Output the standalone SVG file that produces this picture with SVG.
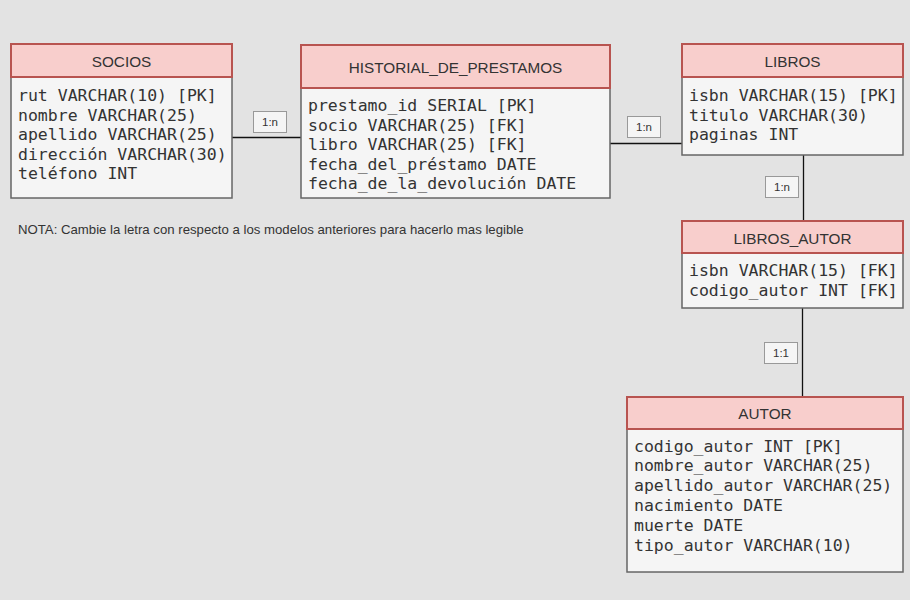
<svg xmlns="http://www.w3.org/2000/svg" width="910" height="600" viewBox="0 0 910 600">
<style>
.hd{fill:#f8cecc;stroke:#b85450;stroke-width:2}
.bd{fill:#f5f5f5;stroke:#666666;stroke-width:1.5}
.ht{font-family:"Liberation Sans",Arial,sans-serif;font-size:15.3px;fill:#333333;text-anchor:middle}
.bt{font-family:"DejaVu Sans Mono",monospace;font-size:16.5px;fill:#333333}
.ln{stroke:#111111;stroke-width:1.3;fill:none}
.lb{fill:#f5f5f5;stroke:#999999;stroke-width:1}
.lt{font-family:"Liberation Sans",Arial,sans-serif;font-size:11.5px;fill:#333333;text-anchor:middle}
.nt{font-family:"Liberation Sans",Arial,sans-serif;font-size:13.2px;fill:#333333}
</style>
<rect width="910" height="600" fill="#e3e3e3"/>
<g id="connectors">
<line class="ln" x1="232" y1="137.5" x2="301" y2="137.5"/>
<rect class="lb" x="253.5" y="111.5" width="33" height="21"/>
<text class="lt" x="270" y="126">1:n</text>
<line class="ln" x1="610" y1="143.5" x2="682" y2="143.5"/>
<rect class="lb" x="627.5" y="116.5" width="33" height="21"/>
<text class="lt" x="644" y="131">1:n</text>
<line class="ln" x1="803.5" y1="155" x2="803.5" y2="221"/>
<rect class="lb" x="765.5" y="176.5" width="33" height="21"/>
<text class="lt" x="782" y="191">1:n</text>
<line class="ln" x1="802.5" y1="308" x2="802.5" y2="397"/>
<rect class="lb" x="764.5" y="342.5" width="33" height="21"/>
<text class="lt" x="781" y="357">1:1</text>
</g>
<g id="socios">
<rect class="bd" x="11" y="77" width="221" height="121"/>
<rect class="hd" x="11" y="44" width="221" height="33"/>
<text class="ht" x="121.5" y="66.5">SOCIOS</text>
<text class="bt" x="18" y="101">rut VARCHAR(10) [PK]</text>
<text class="bt" x="18" y="120.5">nombre VARCHAR(25)</text>
<text class="bt" x="18" y="140">apellido VARCHAR(25)</text>
<text class="bt" x="18" y="159.5">dirección VARCHAR(30)</text>
<text class="bt" x="18" y="179">teléfono INT</text>
</g>
<g id="historial">
<rect class="bd" x="301" y="88" width="309" height="110"/>
<rect class="hd" x="301" y="45" width="309" height="43"/>
<text class="ht" x="455.5" y="73">HISTORIAL_DE_PRESTAMOS</text>
<text class="bt" x="308" y="111">prestamo_id SERIAL [PK]</text>
<text class="bt" x="308" y="130.5">socio VARCHAR(25) [FK]</text>
<text class="bt" x="308" y="150">libro VARCHAR(25) [FK]</text>
<text class="bt" x="308" y="169.5">fecha_del_préstamo DATE</text>
<text class="bt" x="308" y="189">fecha_de_la_devolución DATE</text>
</g>
<g id="libros">
<rect class="bd" x="682" y="77" width="221" height="78"/>
<rect class="hd" x="682" y="44" width="221" height="33"/>
<text class="ht" x="792.5" y="66.5">LIBROS</text>
<text class="bt" x="689" y="101">isbn VARCHAR(15) [PK]</text>
<text class="bt" x="689" y="120.5">titulo VARCHAR(30)</text>
<text class="bt" x="689" y="140">paginas INT</text>
</g>
<g id="libros_autor">
<rect class="bd" x="682" y="253" width="221" height="55"/>
<rect class="hd" x="682" y="221" width="221" height="32"/>
<text class="ht" x="792.5" y="243.5">LIBROS_AUTOR</text>
<text class="bt" x="689" y="276">isbn VARCHAR(15) [FK]</text>
<text class="bt" x="689" y="295.5">codigo_autor INT [FK]</text>
</g>
<g id="autor">
<rect class="bd" x="627" y="429" width="276" height="143"/>
<rect class="hd" x="627" y="397" width="276" height="32"/>
<text class="ht" x="765" y="418.5">AUTOR</text>
<text class="bt" x="634" y="451.5">codigo_autor INT [PK]</text>
<text class="bt" x="634" y="471.3">nombre_autor VARCHAR(25)</text>
<text class="bt" x="634" y="491.1">apellido_autor VARCHAR(25)</text>
<text class="bt" x="634" y="510.9">nacimiento DATE</text>
<text class="bt" x="634" y="530.7">muerte DATE</text>
<text class="bt" x="634" y="550.5">tipo_autor VARCHAR(10)</text>
</g>
<text class="nt" x="18" y="233.5">NOTA: Cambie la letra con respecto a los modelos anteriores para hacerlo mas legible</text>
</svg>
